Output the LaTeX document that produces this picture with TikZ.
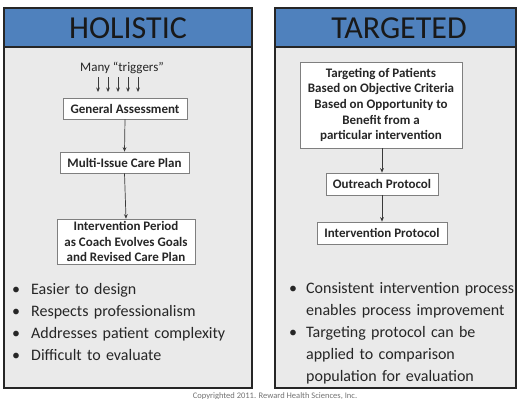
\documentclass[tikz,border=0pt]{standalone}
\usepackage{fontspec}
\setmainfont{Carlito}
\usetikzlibrary{arrows.meta}
\definecolor{hdrblue}{HTML}{4F81BD}
\definecolor{panelgray}{HTML}{EAEAEA}
\definecolor{boxborder}{HTML}{7F7F7F}
\definecolor{arrowgray}{HTML}{3A3A3A}
\tikzset{
  panelbox/.style={draw=black!85, line width=1.6pt, fill=panelgray},
  headerbox/.style={draw=black!85, line width=1.6pt, fill=hdrblue},
  titletext/.style={font=\fontsize{32}{36}\selectfont, text=black!90, inner sep=0pt},
  stepbox/.style={draw=boxborder, line width=0.7pt, fill=white, align=center, inner sep=0pt,
    font=\bfseries\fontsize{13}{15.6}\selectfont, text=black!85},
  arr/.style={draw=arrowgray, line width=0.7pt, -{Stealth[length=4.5pt,width=3.8pt]}},
  bullettext/.style={font=\fontsize{16}{22}\selectfont, anchor=north west, align=left, inner sep=0pt, text=black!85, text width=210pt},
}
\begin{document}
\begin{tikzpicture}[x=1pt,y=-1pt]
\useasboundingbox[fill=white] (0,0) rectangle (517,399);
% panels
\draw[panelbox] (4,8) rectangle (252,388);
\draw[headerbox] (4,8) rectangle (252,47);
\draw[panelbox] (275,8) rectangle (516,388);
\draw[headerbox] (275,8) rectangle (516,47);
\node[titletext] (tl) at (128,28) {HOLISTIC};
\node[titletext] (tr) at (399,28) {TARGETED};

% left flow
\node[font=\fontsize{13}{15}\selectfont, text=black!85, inner sep=0pt] (many) at (122,68) {Many “triggers”};
\foreach \i in {0,...,4} {
  \coordinate (ts\i) at (98+10*\i,77);
  \coordinate (te\i) at (98+10*\i,92);
  \draw[arr] (ts\i) -- (te\i);
}
\node[stepbox, minimum width=124pt, minimum height=21pt] (ga) at (125,108.5) {General Assessment};
\node[stepbox, minimum width=129pt, minimum height=21pt] (mi) at (124.5,162.5) {Multi-Issue Care Plan};
\node[stepbox, minimum width=138pt, minimum height=45pt] (ip) at (126,241.5) {Intervention Period\\as Coach Evolves Goals\\and Revised Care Plan};
\draw[arr] (ga.south) -- (mi.north);
\draw[arr] (mi.south) -- (ip.north);

% left bullets
\node[bullettext] (lb) at (12,279) {%
\begin{tabular}{@{}l@{\hspace{11pt}}l@{}}
\textbullet & Easier to design\\
\textbullet & Respects professionalism\\
\textbullet & Addresses patient complexity\\
\textbullet & Difficult to evaluate
\end{tabular}};

% right flow
\node[stepbox, minimum width=162pt, minimum height=86pt] (tp) at (381,105) {Targeting of Patients\\Based on Objective Criteria\\Based on Opportunity to\\Benefit from a\\particular intervention};
\node[stepbox, minimum width=112pt, minimum height=22pt] (op) at (382,184) {Outreach Protocol};
\node[stepbox, minimum width=130pt, minimum height=22pt] (ipr) at (382,233) {Intervention Protocol};
\draw[arr] (tp.south -| op.north) -- (op.north);
\draw[arr] (op.south) -- (ipr.north);

% right bullets
\node[bullettext] (rb) at (289,278) {%
\begin{tabular}{@{}l@{\hspace{9pt}}l@{}}
\textbullet & Consistent intervention process\\
 & enables process improvement\\
\textbullet & Targeting protocol can be\\
 & applied to comparison\\
 & population for evaluation
\end{tabular}};

% copyright
\node[font=\fontsize{8.5}{10}\selectfont, text=black!55, inner sep=0pt] (copy) at (275,396) {Copyrighted 2011. Reward Health Sciences, Inc.};
\end{tikzpicture}
\end{document}
